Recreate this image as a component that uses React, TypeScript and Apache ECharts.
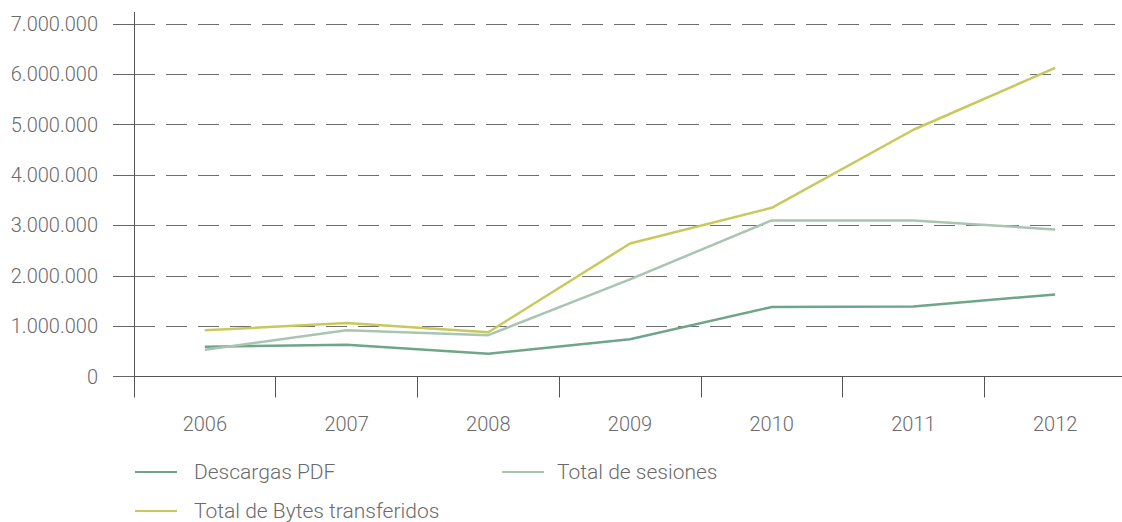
import React, { useEffect, useRef } from "react";
import * as echarts from "echarts";

const years = ["2006", "2007", "2008", "2009", "2010", "2011", "2012"];
const descargasPDF = [590000, 630000, 450000, 740000, 1380000, 1390000, 1630000];
const totalSesiones = [530000, 920000, 820000, 1930000, 3100000, 3100000, 2920000];
const totalBytes = [920000, 1060000, 880000, 2640000, 3350000, 4900000, 6130000];

const seriesNames = ["Descargas PDF", "Total de sesiones", "Total de Bytes transferidos"];
const colors = ["#6fa58a", "#a9c5b2", "#c8c95c"];

const textColor = "#6b6b6b";
const fontFamily = "Roboto";

const fmt = (v: number) => String(Math.round(v)).replace(/\B(?=(\d{3})+(?!\d))/g, ".");

export default function App() {
  const ref = useRef<HTMLDivElement>(null);
  useEffect(() => {
    if (!ref.current) return;
    const chart = echarts.init(ref.current, undefined, { renderer: "svg" });
    const legendBase = (name: string, left: number, top: number, gap: number) => ({
      show: true,
      data: [name],
      left,
      top,
      padding: 0,
      orient: "horizontal",
      icon: "rect",
      itemWidth: 42,
      itemHeight: 2,
      selectedMode: false,
      textStyle: {
        color: textColor,
        fontSize: 21,
        fontFamily,
        fontWeight: 300,
        lineHeight: 24,
        padding: [0, 0, 0, gap],
      },
    });
    chart.setOption({
      animation: false,
      color: colors,
      grid: {
        left: 134,
        top: 24,
        width: 992,
        height: 352.5,
        containLabel: false,
        outerBoundsMode: "none",
      },
      legend: [
        legendBase(seriesNames[0], 135, 460, 12),
        legendBase(seriesNames[1], 502, 460, 8),
        legendBase(seriesNames[2], 135, 499, 12),
      ],
      xAxis: {
        type: "category",
        data: years,
        boundaryGap: true,
        axisLine: { show: true, lineStyle: { color: "#555", width: 1 } },
        axisTick: { show: true, length: 21, inside: false, lineStyle: { color: "#555" } },
        axisLabel: { color: textColor, fontSize: 20, fontFamily, fontWeight: 300, margin: 37 },
        splitLine: { show: false },
      },
      yAxis: {
        type: "value",
        min: 0,
        max: 7000000,
        interval: 1000000,
        axisLine: { show: true, lineStyle: { color: "#555", width: 1 } },
        axisTick: { show: true, length: 21, inside: false, lineStyle: { color: "#666" } },
        axisLabel: {
          color: textColor,
          fontSize: 20,
          fontFamily,
          fontWeight: 300,
          margin: 36,
          formatter: (v: number) => fmt(v),
        },
        splitLine: { show: true, lineStyle: { color: "#707070", width: 1, type: [21, 11] } },
      },
      graphic: [
        {
          type: "line",
          shape: { x1: 134.5, y1: 12, x2: 134.5, y2: 24 },
          style: { stroke: "#555", lineWidth: 1 },
        },
      ],
      series: [
        { name: seriesNames[0], type: "line", data: descargasPDF, symbol: "none", lineStyle: { width: 2.5, color: colors[0] }, itemStyle: { color: colors[0] } },
        { name: seriesNames[1], type: "line", data: totalSesiones, symbol: "none", lineStyle: { width: 2.5, color: colors[1] }, itemStyle: { color: colors[1] } },
        { name: seriesNames[2], type: "line", data: totalBytes, symbol: "none", lineStyle: { width: 2.5, color: colors[2] }, itemStyle: { color: colors[2] } },
      ],
    });
    return () => chart.dispose();
  }, []);
  return <div ref={ref} style={{ width: 1122, height: 522, position: "absolute", left: 0, top: 0 }} />;
}
